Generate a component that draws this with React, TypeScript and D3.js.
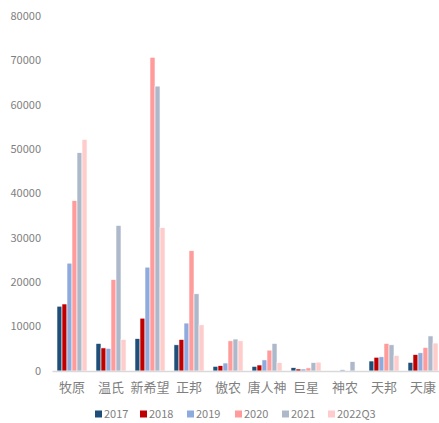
import { useRef, useEffect } from "react";
import * as d3 from "d3";

const categories = ["牧原", "温氏", "新希望", "正邦", "傲农", "唐人神", "巨星", "神农", "天邦", "天康"];
const seriesNames = ["2017", "2018", "2019", "2020", "2021", "2022Q3"];
const colors = ["#1F4E79", "#C00000", "#8FAADC", "#FF9B9B", "#ADB9CA", "#FFCCCC"];

const v2017 = [14600, 6200, 7300, 5900, 1050, 1050, 750, 0, 2250, 1950];
const v2018 = [15100, 5200, 11900, 7100, 1200, 1350, 450, 0, 3100, 3700];
const v2019 = [24300, 5100, 23400, 10800, 1800, 2500, 450, 300, 3200, 4100];
const v2020 = [38400, 20600, 70700, 27100, 6800, 4700, 700, 0, 6200, 5300];
const v2021 = [49200, 32800, 64200, 17400, 7200, 6200, 1900, 2100, 5900, 7900];
const v2022Q3 = [52200, 7100, 32300, 10400, 6800, 1900, 2000, 0, 3500, 6300];

const yTicks = [0, 10000, 20000, 30000, 40000, 50000, 60000, 70000, 80000];

const W = 439;
const H = 423;
const FONT = "'Noto Sans CJK SC', 'Noto Sans', sans-serif";
const TEXT = "#7F7F7F";

const App = () => {
  const svgRef = useRef<SVGSVGElement>(null);

  useEffect(() => {
    if (!svgRef.current) return;
    const svg = d3.select(svgRef.current);
    svg.selectAll("*").remove();

    const series = [v2017, v2018, v2019, v2020, v2021, v2022Q3];

    const x = d3
      .scaleBand<string>()
      .domain(categories)
      .range([52.5, 442.5])
      .paddingInner(0.23)
      .paddingOuter(0.115);
    const xs = d3.scaleBand<string>().domain(seriesNames).range([0, x.bandwidth()]);
    const y = d3.scaleLinear().domain([0, 80000]).range([371, 16]);

    // y tick labels
    svg
      .append("g")
      .selectAll("text")
      .data(yTicks)
      .enter()
      .append("text")
      .attr("x", 41)
      .attr("y", (d) => y(d))
      .attr("dy", "0.35em")
      .attr("text-anchor", "end")
      .attr("font-family", FONT)
      .attr("font-size", 11)
      .attr("fill", TEXT)
      .text((d) => String(d));

    // bars
    const groups = svg
      .append("g")
      .selectAll("g")
      .data(categories)
      .enter()
      .append("g")
      .attr("transform", (d) => `translate(${x(d)},0)`);

    groups
      .selectAll("rect")
      .data((_, i) => series.map((s, j) => ({ name: seriesNames[j], value: s[i], color: colors[j] })))
      .enter()
      .append("rect")
      .attr("x", (d) => xs(d.name)!)
      .attr("width", xs.bandwidth())
      .attr("y", (d) => y(d.value))
      .attr("height", (d) => y(0) - y(d.value))
      .attr("fill", (d) => d.color)
      .attr("stroke", "#fff")
      .attr("stroke-width", 0.6);

    // baseline
    svg
      .append("line")
      .attr("x1", 52.5)
      .attr("x2", W)
      .attr("y1", y(0) + 0.5)
      .attr("y2", y(0) + 0.5)
      .attr("stroke", "#D9D9D9")
      .attr("stroke-width", 1.5);

    // category labels
    svg
      .append("g")
      .selectAll("text")
      .data(categories)
      .enter()
      .append("text")
      .attr("x", (d) => x(d)! + x.bandwidth() / 2)
      .attr("y", 387)
      .attr("dy", "0.35em")
      .attr("text-anchor", "middle")
      .attr("font-family", FONT)
      .attr("font-size", 13)
      .attr("fill", TEXT)
      .text((d) => d);

    // legend
    const legendX = [95, 140, 187, 235, 282, 328];
    const legend = svg
      .append("g")
      .selectAll("g")
      .data(seriesNames)
      .enter()
      .append("g")
      .attr("transform", (_, i) => `translate(${legendX[i]},414)`);
    legend
      .append("rect")
      .attr("x", 0)
      .attr("y", -3.5)
      .attr("width", 7)
      .attr("height", 7)
      .attr("fill", (_, i) => colors[i]);
    legend
      .append("text")
      .attr("x", 9)
      .attr("y", 0)
      .attr("dy", "0.35em")
      .attr("font-family", FONT)
      .attr("font-size", 11)
      .attr("fill", TEXT)
      .text((d) => d);
  }, []);

  return (
    <svg
      ref={svgRef}
      width={W}
      height={H}
      style={{ position: "absolute", left: 0, top: 0, background: "#fff" }}
    />
  );
};

export default App;
